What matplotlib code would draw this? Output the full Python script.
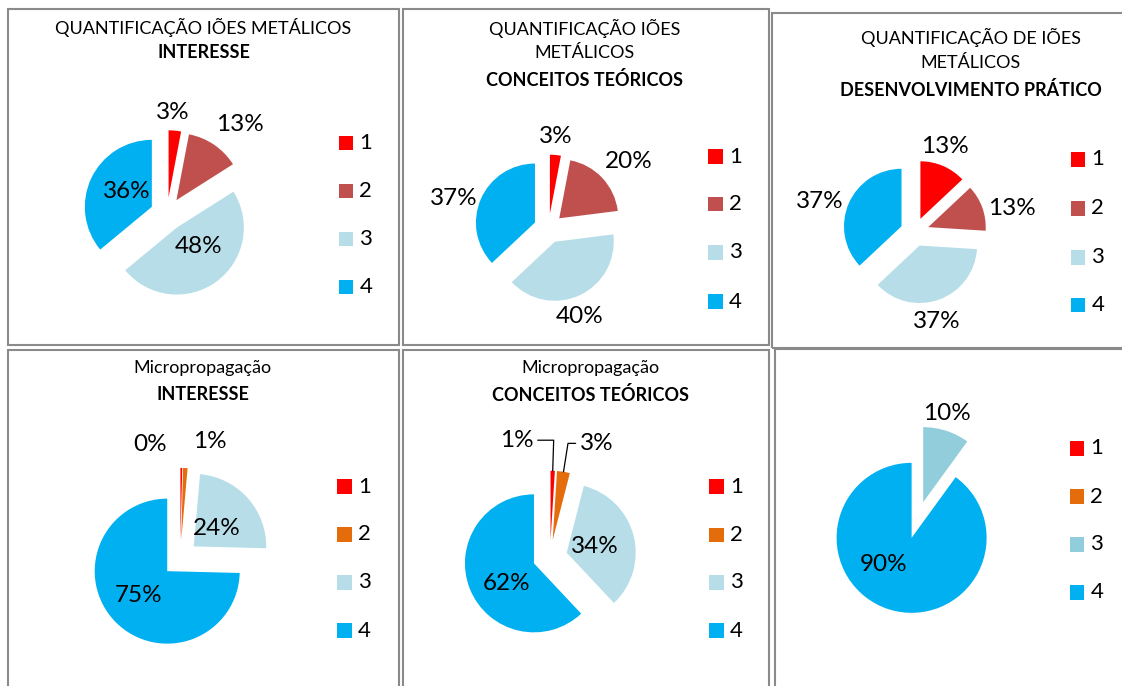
import numpy as np
import matplotlib
matplotlib.use('Agg')
import matplotlib.pyplot as plt
from matplotlib.patches import Rectangle

plt.rcParams['font.family'] = ['Lato', 'DejaVu Sans']

W, H = 1122, 686

categories = ['1', '2', '3', '4']

# percentages
interesse_ioes = [3, 13, 48, 36]
conceitos_ioes = [3, 20, 40, 37]
pratico_ioes = [13, 13, 37, 37]
interesse_micro = [0.4, 1.0, 24.0, 74.6]
conceitos_micro = [1, 3, 34, 62]
pratico_micro = [0, 0, 10, 90]

colors_ioes = ['#FF0000', '#C0504D', '#B7DEE8', '#00B0F0']
colors_micro = ['#FF0000', '#E46C0A', '#B7DEE8', '#00B0F0']
colors_micro_pratico = ['#FF0000', '#E46C0A', '#92CDDC', '#00B0F0']

titles = [
    [('QUANTIFICAÇÃO IÕES METÁLICOS', 'normal'), ('INTERESSE', 'bold')],
    [('QUANTIFICAÇÃO IÕES', 'normal'), ('METÁLICOS', 'normal'),
     ('CONCEITOS TEÓRICOS', 'bold')],
    [('QUANTIFICAÇÃO DE IÕES', 'normal'), ('METÁLICOS', 'normal'),
     ('DESENVOLVIMENTO PRÁTICO', 'bold')],
    [('Micropropagação', 'normal'), ('INTERESSE', 'bold')],
    [('Micropropagação', 'normal'), ('CONCEITOS TEÓRICOS', 'bold')],
    [],
]

# layout in pixels (x right, y down)
panels = [
    dict(values=interesse_ioes, colors=colors_ioes,
         box=(8, 9, 399, 345), center=(167, 214), radius=67,
         title_x=203.5, title_y=[27, 53],
         leg_x=339, leg_y=[143, 191, 239, 287],
         lab=[(1.52, -2), (1.72, 5), (0.68, -8), (0.69, 4.5)], leader=[]),
    dict(values=conceitos_ioes, colors=colors_ioes,
         box=(403, 9, 769, 345), center=(548.5, 228.4), radius=59,
         title_x=585, title_y=[28, 53, 80],
         leg_x=708.5, leg_y=[156.7, 204, 252.3, 301.7],
         lab=[(1.56, -0.7), (1.78, 3.4), (1.59, 5.6), (1.69, -5.9)], leader=[]),
    dict(values=pratico_ioes, colors=colors_ioes,
         box=(772, 13, 1126, 348), center=(914.7, 232), radius=57.5,
         title_x=971, title_y=[37.7, 63.3, 90],
         leg_x=1071, leg_y=[159.3, 208.3, 257.3, 305],
         lab=[(1.57, -3.8), (1.74, 6.1), (1.6, 6), (1.74, -5.8)], leader=[]),
    dict(values=interesse_micro, colors=colors_micro,
         box=(8, 350, 399, 692), center=(180.2, 558.5), radius=72.5,
         title_x=202.5, title_y=[368, 395],
         leg_x=337.5, leg_y=[486.7, 534.3, 582.3, 630.7],
         lab=[(1.62, -15.6), (1.66, 11), (0.65, 2.2), (0.76, 2.6)], leader=[]),
    dict(values=conceitos_micro, colors=colors_micro,
         box=(403, 350, 769, 692), center=(550, 557), radius=69,
         title_x=590.5, title_y=[368, 395],
         leg_x=709.5, leg_y=[486.7, 535, 582.3, 630.7],
         lab=[(1.76, -17.7), (1.78, 13.3), (0.67, 1.5), (0.73, -9.7)], leader=[0, 1]),
    dict(values=pratico_micro, colors=colors_micro_pratico,
         box=(775, 349, 1126, 692), center=(917.4, 520), radius=75,
         title_x=0, title_y=[],
         leg_x=1070, leg_y=[448.3, 496.7, 544.3, 592.3],
         lab=[(1.5, 0), (1.5, 0), (1.47, -2.6), (0.75, 19.2)], leader=[]),
]

EXPLODE = 0.25   # fraction of the radius
PCT_SIZE = 17.5
LEG_SIZE = 16
TITLE_SIZE = 13
SQ = 14.5

fig = plt.figure(figsize=(W / 100, H / 100), dpi=100)
ax = fig.add_axes([0, 0, 1, 1])

for p, title in zip(panels, titles):
    x0, y0, x1, y1 = p['box']
    ax.add_patch(Rectangle((x0, H - y1), x1 - x0, y1 - y0, fill=False,
                           edgecolor='#8a8a8a', lw=1.5, zorder=1))

    cx, cy = p['center']
    cy = H - cy
    r = p['radius']
    vals = p['values']
    # pie explode is in data units, so scale by the radius
    wedges, _ = ax.pie(vals, colors=p['colors'], startangle=90,
                       counterclock=False, explode=[EXPLODE * r] * len(vals),
                       center=(cx, cy), radius=r,
                       wedgeprops=dict(linewidth=0))

    total = sum(vals)
    for i, (w, v) in enumerate(zip(wedges, vals)):
        if v == 0:
            continue
        txt = '%.0f%%' % (100 * v / total)
        dist, shift = p['lab'][i]
        m = (w.theta1 + w.theta2) / 2
        a = np.deg2rad(m - shift)
        lx, ly = cx + dist * r * np.cos(a), cy + dist * r * np.sin(a)
        if i in p['leader']:
            am = np.deg2rad(m)
            tip = (cx + (1 + EXPLODE) * r * np.cos(am),
                   cy + (1 + EXPLODE) * r * np.sin(am))
            ax.annotate(txt, xy=tip, xytext=(lx, ly), ha='center', va='center',
                        fontsize=PCT_SIZE, color='black',
                        arrowprops=dict(arrowstyle='-', color='black', lw=0.9,
                                        shrinkA=1, shrinkB=0,
                                        connectionstyle='angle,angleA=0,angleB=%.1f,rad=0' % m))
        else:
            ax.text(lx, ly, txt, ha='center', va='center',
                    fontsize=PCT_SIZE, color='black')

    for (line, weight), ty in zip(title, p['title_y']):
        ax.text(p['title_x'], H - ty, line, ha='center', va='center',
                fontsize=TITLE_SIZE, fontweight=weight, color='black')

    for cat, col, ly in zip(categories, p['colors'], p['leg_y']):
        ax.add_patch(Rectangle((p['leg_x'], H - ly - SQ / 2), SQ, SQ,
                               facecolor=col, edgecolor='none'))
        ax.text(p['leg_x'] + SQ + 6, H - ly, cat, ha='left', va='center',
                fontsize=LEG_SIZE, color='black')

ax.set_xlim(0, W)
ax.set_ylim(0, H)
ax.set_aspect('equal')
ax.axis('off')

fig.savefig('out.png', dpi=100)
